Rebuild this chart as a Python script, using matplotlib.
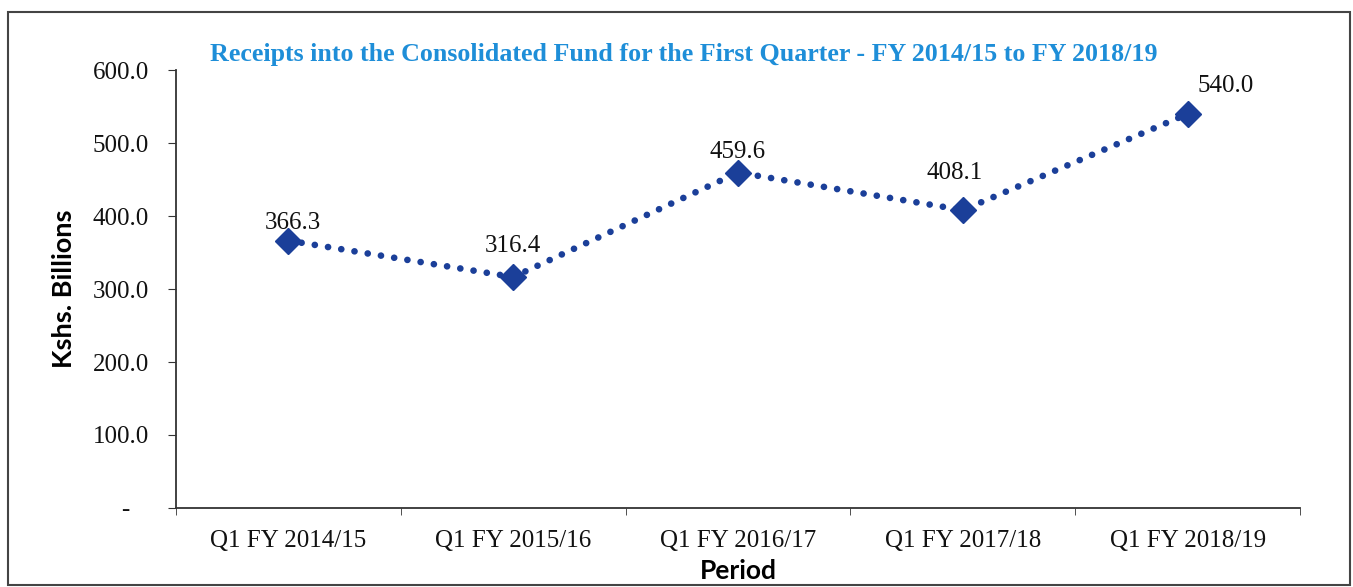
import numpy as np
import matplotlib.pyplot as plt
from matplotlib.patches import Rectangle
from matplotlib.ticker import FixedLocator, FuncFormatter

periods = ["Q1 FY 2014/15", "Q1 FY 2015/16", "Q1 FY 2016/17", "Q1 FY 2017/18", "Q1 FY 2018/19"]
receipts = [366.3, 316.4, 459.6, 408.1, 540.0]

# label offsets in points (dx, dy)
label_offsets = [(3, 4.5), (0, 14.5), (0, 6.5), (-6, 18.5), (27, 12)]

serif = ["Liberation Serif", "DejaVu Serif"]
sans = ["Lato", "DejaVu Sans"]

fig = plt.figure(figsize=(13.53, 5.87), dpi=100)
ax = fig.add_axes([0.130, 0.1346, 0.831, 0.7461])

x = np.arange(len(periods))
ax.plot(x, receipts, linestyle=(0, (0.01, 2.0)), dash_capstyle="round",
        linewidth=4.8, color="#1b3f99", marker="D", markersize=13.5,
        markerfacecolor="#1b3f99", markeredgecolor="#1b3f99")

for xi, v, (dx, dy) in zip(x, receipts, label_offsets):
    ax.annotate(f"{v:.1f}", (xi, v), xytext=(dx, dy), textcoords="offset points",
                ha="center", va="bottom", fontsize=18, family=serif, color="#111111")

ax.set_xlim(-0.5, len(periods) - 0.5)
ax.set_ylim(0, 600)
ax.set_yticks(np.arange(0, 601, 100))
ax.yaxis.set_major_formatter(FuncFormatter(lambda v, p: "-   " if v == 0 else f"{v:.1f}"))
ax.set_xticks(x)
ax.set_xticklabels(periods)
ax.xaxis.set_minor_locator(FixedLocator(np.arange(-0.5, len(periods), 1.0)))
ax.tick_params(axis="x", which="major", length=0, pad=16)
ax.tick_params(axis="x", which="minor", length=5, direction="out", color="#333333")
ax.tick_params(axis="y", length=6, direction="out", pad=13.5, color="#333333")
for lab in ax.get_xticklabels() + ax.get_yticklabels():
    lab.set_fontfamily(serif)
    lab.set_fontsize(18)
    lab.set_color("#111111")

for side in ["top", "right"]:
    ax.spines[side].set_visible(False)
for side in ["left", "bottom"]:
    ax.spines[side].set_color("#333333")
    ax.spines[side].set_linewidth(1.3)

ax.set_ylabel("Kshs. Billions", fontsize=19.5, fontweight="bold", family=sans)
ax.yaxis.set_label_coords(-0.089, 0.5)
ax.set_xlabel("Period", fontsize=19, fontweight="bold", family=sans, labelpad=5)

fig.text(0.505, 0.908, "Receipts into the Consolidated Fund for the First Quarter - FY 2014/15 to FY 2018/19",
         ha="center", va="center", fontsize=18.7, fontweight="bold", family=serif, color="#1e8ed8")

fig.patches.append(Rectangle((8 / 1353, 2 / 587), 1342 / 1353, 573 / 587, transform=fig.transFigure,
                             fill=False, edgecolor="#444444", linewidth=1.5))

fig.savefig("out.png", dpi=100)
